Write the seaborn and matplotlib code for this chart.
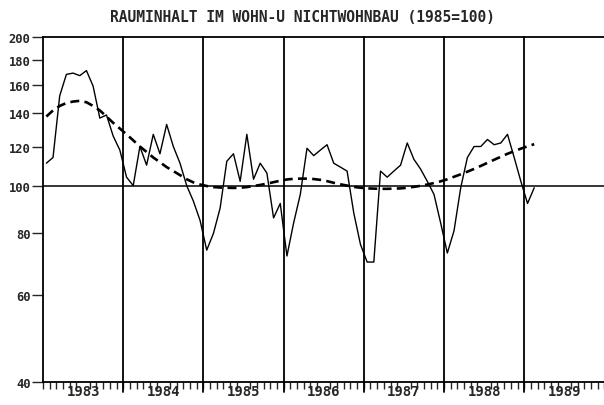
import numpy as np
import matplotlib.pyplot as plt
import seaborn as sns
import pandas as pd
from matplotlib.ticker import FixedLocator, FixedFormatter, NullFormatter

title = "RAUMINHALT IM WOHN-U NICHTWOHNBAU (1985=100)"
start_year = 1983
year_labels = ["1983", "1984", "1985", "1986", "1987", "1988", "1989"]
y_ticks = [40, 60, 80, 100, 120, 140, 160, 180, 200]

# monthly index, Jan 1983 .. Feb 1989
index_values = [
    111, 114, 152, 168, 169, 167, 171, 159, 137, 139, 126, 118,
    104, 100, 120, 110, 127, 116, 133, 120, 111, 100, 93, 85,
    74, 80, 90, 112, 116, 102, 127, 103, 111, 106, 86, 92,
    72, 84, 96, 119, 115, 118, 121, 111, 109, 107, 88, 76,
    70, 70, 107, 104, 107, 110, 122, 113, 108, 102, 96, 84,
    73, 81, 99, 114, 120, 120, 124, 121, 122, 127, 114, 102,
    92, 99,
]

# smoothed trend (dashed)
trend_values = [
    138, 142, 145, 147, 148, 148.5, 147.5, 145, 142, 138, 134, 130.5,
    127, 123.5, 120, 117, 114, 111.5, 109, 107, 105, 103, 101.5, 100.5,
    99.8, 99.3, 99.1, 99, 98.9, 99, 99.3, 99.8, 100.3, 100.9, 101.6, 102.3,
    102.9, 103.2, 103.3, 103.3, 103.1, 102.7, 102.1, 101.3, 100.6, 100, 99.4, 99,
    98.7, 98.6, 98.5, 98.5, 98.6, 98.7, 99, 99.4, 99.9, 100.5, 101.2, 102,
    103, 104.2, 105.4, 106.7, 108.1, 109.6, 111.2, 112.8, 114.4, 116, 117.4, 118.8,
    120.1, 121.3,
]

df = pd.DataFrame({
    "month": np.arange(len(index_values)),
    "index": index_values,
    "trend": trend_values,
})
df["x"] = start_year + (df["month"] + 0.5) / 12

sns.set_style("white")
plt.rcParams["font.family"] = ["DejaVu Sans Mono", "DejaVu Sans"]
plt.rcParams["font.weight"] = "bold"

fig = plt.figure(figsize=(6.04, 4.06), dpi=100)
ax = fig.add_axes([43 / 604, 23 / 406, 561.4 / 604, 345 / 406])

sns.lineplot(data=df, x="x", y="index", ax=ax, color="black", linewidth=1.0)
sns.lineplot(data=df, x="x", y="trend", ax=ax, color="black", linewidth=1.9,
             linestyle=(0, (3.4, 2.0)))

ax.axhline(100, color="black", linewidth=1.1)
n_years = len(year_labels)
for yr in range(start_year + 1, start_year + n_years):
    ax.axvline(yr, ymin=-0.03, ymax=1, color="black", linewidth=1.3, clip_on=False)

ax.set_yscale("log")
ax.set_ylim(40, 200)
ax.set_xlim(start_year, start_year + n_years)
ax.yaxis.set_major_locator(FixedLocator(y_ticks))
ax.yaxis.set_major_formatter(FixedFormatter([str(t) for t in y_ticks]))
ax.yaxis.set_minor_formatter(NullFormatter())
ax.yaxis.set_minor_locator(FixedLocator([]))
ax.tick_params(axis="y", which="major", direction="out", length=8, width=1.0,
               pad=1, labelsize=8.7, left=True)

mid_years = [start_year + i + 0.5 for i in range(n_years)]
ax.xaxis.set_major_locator(FixedLocator(mid_years))
ax.xaxis.set_major_formatter(FixedFormatter(year_labels))
ax.xaxis.set_minor_locator(FixedLocator(
    [start_year + k / 12 for k in range(n_years * 12 + 1)]))
ax.tick_params(axis="x", which="major", length=0, pad=1.5, labelsize=10)
ax.tick_params(axis="x", which="minor", direction="out", length=5, width=1.0,
               bottom=True)

ax.set_xlabel("")
ax.set_ylabel("")
for side in ["left", "bottom", "top"]:
    ax.spines[side].set_color("black")
    ax.spines[side].set_linewidth(1.3)
ax.spines["right"].set_visible(False)

fig.text(0.5, 1 - 18 / 406, title, ha="center", va="center", fontsize=10.5,
         fontweight="bold")

fig.savefig("out.png", dpi=100)
